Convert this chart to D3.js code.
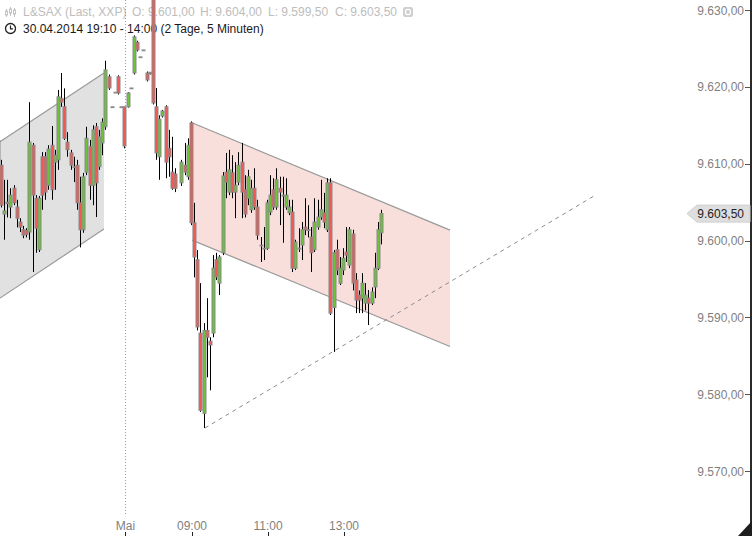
<!DOCTYPE html>
<html><head><meta charset="utf-8">
<script src="https://cdn.jsdelivr.net/npm/d3@7"></script>
<style>
html,body{margin:0;padding:0;background:#fff;}
svg{display:block;font-family:"Liberation Sans",Arial,sans-serif;}
</style></head><body>
<svg id="c" width="752" height="536"></svg>
<script>
// ---- data (5-minute bars, slot = bar index on compressed time axis, 0 = 01.05. 09:00) ----
const slot = [-61,-60,-59,-58,-57,-56,-55,-54,-53,-52,-51,-50,-49,-48,-47,-46,-45,-44,-43,-42,-41,-40,-39,-38,-37,-36,-35,-34,-33,-32,-31,-30,-29,-28,-27,
  -26,-25,-24,-23,-22,-21,-20,-19,-18,-17,-16,-15,-14,-13,-12,-11,-10,-9,-8,-7,-6,-5,-3,-2,-1,
  0,1,2,3,4,5,6,7,8,9,10,11,12,13,14,15,16,17,18,19,20,21,22,23,24,25,26,27,28,29,30,
  31,32,33,34,35,36,37,38,39,40,41,42,43,44,45,46,47,48,49,50,51,52,53,54,55,56,57,58,59,60];
const open = [9613.0,9609.8,9603.45,9605.0,9604.35,9606.8,9604.35,9602.4,9601.4,9601.3,9601.1,9612.4,9605.5,9598.8,9610.9,9610.9,9607.2,9612.4,9610.2,9610.5,9618.5,9617.4,9612.8,9611.4,9609.6,9609.8,9604.9,9601.4,9608.9,9612.2,9607.2,9614.8,9609.6,9612.7,9614.8,
  9621.3,9617.4,9619.3,9621.3,9617.4,9617.4,9617.4,9619.85,9621.8,9625.8,9623.9,9624.8,9621.8,9621.7,9632.5,9617.4,9610.9,9616.2,9617.4,9612.0,9608.9,9608.65,9607.5,9609.8,9608.3,
  9615.3,9602.3,9597.5,9587.95,9577.5,9588.3,9586.9,9587.95,9597.5,9594.45,9598.4,9608.9,9606.3,9608.8,9606.3,9607.6,9610.2,9606.6,9605.5,9604.0,9606.8,9604.35,9599.4,9599.0,9599.0,9603.7,9606.6,9604.35,9606.8,9605.9,9604.35,
  9603.6,9603.7,9596.4,9599.0,9599.4,9601.75,9601.4,9600.45,9598.8,9601.75,9603.05,9603.6,9601.4,9607.5,9591.3,9598.8,9594.45,9596.15,9598.5,9596.8,9600.85,9594.85,9592.9,9592.5,9591.85,9592.5,9591.85,9593.95,9596.4,9601.0];
const high = [9613.5,9610.5,9607.9,9607.9,9606.8,9607.2,9605.3,9602.9,9601.9,9601.6,9618.0,9612.7,9605.9,9605.8,9611.5,9611.5,9612.4,9614.9,9611.8,9619.6,9621.8,9619.8,9614.1,9611.8,9610.9,9610.5,9608.3,9608.8,9614.8,9613.1,9615.0,9615.3,9614.4,9615.9,9623.4,
  9621.6,9617.4,9619.3,9621.5,9617.4,9617.4,9619.3,9619.85,9626.7,9626.0,9623.9,9624.8,9622.0,9621.9,9633.0,9619.85,9616.3,9617.0,9617.6,9614.4,9613.5,9609.4,9610.5,9612.7,9613.3,
  9615.5,9604.9,9598.75,9594.45,9589.25,9592.5,9587.4,9598.1,9598.4,9598.1,9608.9,9611.4,9611.8,9611.1,9610.2,9611.5,9612.7,9608.5,9609.2,9607.9,9609.4,9605.3,9600.45,9601.75,9605.3,9608.5,9608.1,9609.4,9608.3,9608.3,9608.1,
  9605.3,9605.3,9600.1,9601.6,9602.4,9605.5,9604.6,9601.75,9605.5,9605.3,9607.9,9606.2,9608.1,9608.1,9598.75,9600.1,9597.85,9599.0,9601.75,9601.75,9601.4,9595.75,9593.5,9595.75,9594.45,9593.55,9593.9,9598.4,9602.4,9604.0];
const low = [9609.0,9604.3,9600.1,9603.0,9602.9,9604.6,9601.7,9601.1,9600.3,9600.4,9600.1,9595.9,9598.4,9598.5,9604.0,9605.3,9606.6,9605.3,9606.6,9609.2,9617.4,9613.1,9610.9,9609.2,9607.6,9604.0,9599.1,9601.0,9608.5,9605.3,9604.6,9603.05,9609.2,9611.1,9614.4,
  9619.6,9617.4,9619.3,9619.0,9617.4,9612.0,9617.3,9619.85,9621.6,9624.6,9623.9,9624.8,9620.7,9621.6,9617.7,9610.5,9607.9,9616.0,9608.1,9608.3,9606.6,9606.3,9607.1,9608.5,9607.9,
  9602.0,9595.2,9588.3,9577.7,9575.6,9582.2,9580.5,9587.4,9594.85,9592.9,9598.1,9605.5,9605.9,9605.5,9602.9,9607.2,9602.9,9603.0,9604.6,9603.6,9604.0,9600.1,9597.2,9597.45,9598.8,9603.3,9604.0,9604.0,9602.0,9599.7,9604.0,
  9603.3,9595.9,9596.15,9598.5,9597.45,9600.7,9600.4,9595.9,9598.5,9601.4,9602.7,9601.6,9601.1,9590.3,9585.5,9595.5,9594.2,9595.5,9597.2,9596.4,9593.5,9590.55,9590.55,9590.55,9590.9,9589.0,9591.6,9592.5,9596.15,9599.5];
const close = [9609.8,9604.6,9603.85,9604.8,9605.9,9604.9,9602.9,9601.75,9600.7,9600.8,9612.8,9605.9,9601.6,9605.5,9605.9,9606.3,9611.9,9606.6,9611.1,9618.7,9618.0,9613.3,9611.8,9609.8,9609.5,9604.9,9601.4,9608.3,9613.3,9607.2,9614.4,9607.5,9613.5,9615.4,9622.2,
  9619.85,9617.4,9619.3,9619.2,9617.4,9612.3,9619.2,9619.85,9626.5,9624.8,9623.9,9624.8,9620.9,9621.9,9617.9,9611.4,9615.8,9616.85,9610.2,9610.9,9606.8,9606.8,9610.2,9608.9,9612.4,
  9602.3,9597.85,9588.75,9577.9,9588.3,9587.4,9586.4,9596.4,9595.25,9597.85,9608.4,9607.6,9609.2,9606.3,9607.2,9609.8,9606.3,9603.45,9608.3,9606.8,9604.35,9600.7,9599.4,9599.0,9604.9,9605.9,9604.35,9607.9,9606.3,9605.9,9605.9,
  9604.35,9596.4,9599.8,9599.0,9601.4,9601.4,9601.4,9598.4,9602.4,9603.05,9604.0,9602.4,9607.5,9590.55,9598.4,9596.15,9596.4,9597.7,9598.1,9601.4,9594.45,9592.25,9592.25,9594.45,9592.9,9591.85,9593.3,9596.4,9601.4,9603.5];

const yTicks = [9570, 9580, 9590, 9600, 9610, 9620, 9630];
const xTickSlots = [-21, 0, 24, 48];
const xTickLabels = ["Mai", "09:00", "11:00", "13:00"];
const dayBreakSlot = -21;
const lastPrice = 9603.5;

// drawings (slot, price)
const greyChannelUpper = [[-60.63, 9612.86], [-27.8, 9621.8]];
const greyChannelLower = [[-60.63, 9592.5], [-27.8, 9601.5]];
const pinkChannelUpper = [[0, 9615.33], [81.47, 9601.35]];
const pinkChannelLower = [[0, 9600.05], [81.47, 9586.2]];
const supportLine = [[4.1, 9575.6], [126.95, 9605.8]];

const titleParts = ["L&SAX (Last, XXP)", "O: 9.601,00", "H: 9.604,00", "L: 9.599,50", "C: 9.603,50"];
const subtitle = "30.04.2014 19:10 - 14:00 (2 Tage, 5 Minuten)";

// ---- drawing ----
const W = 752, H = 536;
const svg = d3.select("#c");
const x = d3.scaleLinear().domain([-60.63, 176.84]).range([0, 752]);
const y = d3.scaleLinear().domain([9570, 9630]).range([471, 10]);
const de = d3.formatLocale({decimal: ",", thousands: ".", grouping: [3], currency: ["", ""]});
const fmt = de.format(",.2f");

// header
const hdr = svg.append("g");
const titleX = [23, 132, 200, 268, 335];
hdr.selectAll("text.t").data(titleParts).join("text").attr("class","t")
  .attr("x", (d,i) => titleX[i]).attr("y", 16).attr("font-size", 12).attr("fill", "#bdbdbd").text(d => d);
// small chart icon
const ic = hdr.append("g").attr("stroke", "#c4c4c4").attr("fill", "none");
[[6,9,17,11,15],[10,7,16,9,13],[14,8,17,10,14]].forEach(([cx,t,b,bt,bb]) => {
  ic.append("line").attr("x1",cx+0.5).attr("x2",cx+0.5).attr("y1",t).attr("y2",b);
  ic.append("rect").attr("x",cx-0.5).attr("y",bt).attr("width",2).attr("height",bb-bt).attr("fill","#fff");
});
// settings icon
hdr.append("rect").attr("x",403).attr("y",7).attr("width",10).attr("height",10).attr("rx",2).attr("fill","#cfcfcf");
hdr.append("circle").attr("cx",408).attr("cy",12).attr("r",2.6).attr("fill","none").attr("stroke","#fff").attr("stroke-width",1.2);
// clock icon
hdr.append("circle").attr("cx",10.5).attr("cy",28.5).attr("r",5).attr("fill","none").attr("stroke","#222").attr("stroke-width",1.3);
hdr.append("path").attr("d","M10.5,25.5V28.8H13").attr("fill","none").attr("stroke","#222").attr("stroke-width",1.2);
hdr.append("text").attr("x",23).attr("y",33).attr("font-size",12).attr("fill","#1a1a1a").text(subtitle);

const plot = svg.append("g");

// grey channel
const areaPts = (u, l) => [[x(u[0][0]), y(u[0][1])], [x(u[1][0]), y(u[1][1])], [x(l[1][0]), y(l[1][1])], [x(l[0][0]), y(l[0][1])]];
plot.append("path").attr("d", "M" + areaPts(greyChannelUpper, greyChannelLower).join("L") + "Z").attr("fill", "#e1e1e1");
plot.append("path").attr("d", "M" + areaPts(pinkChannelUpper, pinkChannelLower).join("L") + "Z").attr("fill", "#f9dfdb");
const line = d3.line().x(d => x(d[0])).y(d => y(d[1]));
[greyChannelUpper, greyChannelLower, pinkChannelUpper, pinkChannelLower].forEach(l =>
  plot.append("path").attr("d", line(l)).attr("stroke", "#9a9a9a").attr("stroke-width", 1.2).attr("fill", "none"));
plot.append("path").attr("d", line(supportLine)).attr("stroke", "#8c8c8c").attr("stroke-width", 1)
  .attr("stroke-dasharray", "4,4").attr("fill", "none");

// day break
const dbx = Math.round(x(dayBreakSlot)) + 0.5;
plot.append("line").attr("x1", dbx).attr("x2", dbx).attr("y1", 0).attr("y2", 516)
  .attr("stroke", "#9a9a9a").attr("stroke-dasharray", "1,2");

// candles
const bars = slot.map((s, i) => ({s, o: open[i], h: high[i], l: low[i], c: close[i]}));
const cg = plot.append("g");
cg.selectAll("line.w").data(bars).join("line").attr("class", "w")
  .attr("x1", d => Math.round(x(d.s)) - 0.5).attr("x2", d => Math.round(x(d.s)) - 0.5)
  .attr("y1", d => y(d.h)).attr("y2", d => y(d.l)).attr("stroke", "#000").attr("stroke-width", 1);
cg.selectAll("rect.b").data(bars).join("rect").attr("class", "b")
  .attr("x", d => Math.round(x(d.s)) - 2)
  .attr("y", d => y(Math.max(d.o, d.c)))
  .attr("width", 3)
  .attr("height", d => Math.max(0.8, Math.abs(y(d.o) - y(d.c))))
  .attr("fill", d => d.c > d.o ? "#6cc23a" : (d.c < d.o ? "#ee5a55" : "#8a8a8a"))
  .attr("stroke", "#8a8a8a").attr("stroke-width", 1);

// right axis
const ax = svg.append("g");
ax.append("rect").attr("x", 750).attr("y", 0).attr("width", 2).attr("height", H).attr("fill", "#2a2a2a");
ax.selectAll("text.yl").data(yTicks).join("text").attr("class", "yl")
  .attr("x", 744).attr("y", d => y(d) + 4.5).attr("text-anchor", "end").attr("font-size", 12)
  .attr("fill", "#7f7f7f").text(d => fmt(d));
ax.selectAll("line.yt").data(yTicks).join("line").attr("class", "yt")
  .attr("x1", 745).attr("x2", 750).attr("y1", d => Math.round(y(d)) + 0.5).attr("y2", d => Math.round(y(d)) + 0.5)
  .attr("stroke", "#555");
// last price marker
const ly = y(lastPrice);
ax.append("path").attr("d", `M687,${ly}L697,${ly-8.5}H750V${ly+8.5}H697Z`).attr("fill", "#dedede").attr("stroke", "#cfcfcf");
ax.append("text").attr("x", 744).attr("y", ly + 4.5).attr("text-anchor", "end").attr("font-size", 12)
  .attr("fill", "#222").text(fmt(lastPrice));
// corner triangle
ax.append("path").attr("d", "M738,536L752,536L752,521Z").attr("fill", "#1e1e1e");

// bottom axis
const bx = svg.append("g");
bx.selectAll("text.xl").data(xTickSlots).join("text").attr("class", "xl")
  .attr("x", d => x(d)).attr("y", 530).attr("text-anchor", "middle").attr("font-size", 12)
  .attr("fill", "#7f7f7f").text((d, i) => xTickLabels[i]);
bx.selectAll("line.xt").data(xTickSlots).join("line").attr("class", "xt")
  .attr("x1", d => Math.round(x(d)) + 0.5).attr("x2", d => Math.round(x(d)) + 0.5)
  .attr("y1", 532).attr("y2", 536).attr("stroke", "#222");
</script>
</body></html>
